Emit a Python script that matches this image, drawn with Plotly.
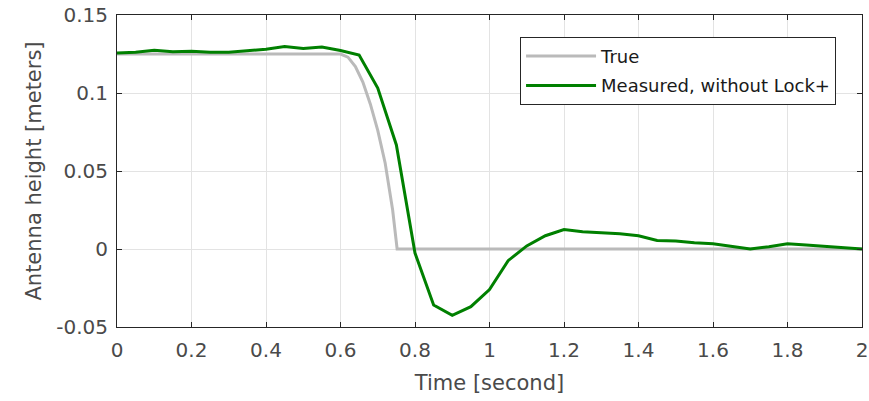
import plotly.graph_objects as go

# True antenna height
t_true = [0.0, 0.6, 0.62, 0.64, 0.66, 0.68, 0.70, 0.72, 0.74, 0.752, 2.0]
h_true = [0.125, 0.125, 0.123, 0.117, 0.107, 0.093, 0.076, 0.055, 0.025, 0.0, 0.0]

# Measured, without Lock+
t_meas = [0.0, 0.05, 0.1, 0.15, 0.2, 0.25, 0.3, 0.35, 0.4, 0.45, 0.5, 0.55, 0.6,
          0.65, 0.7, 0.75, 0.8, 0.85, 0.9, 0.95, 1.0, 1.05, 1.1, 1.15, 1.2,
          1.25, 1.3, 1.35, 1.4, 1.45, 1.5, 1.55, 1.6, 1.65, 1.7, 1.75, 1.8,
          1.85, 1.9, 1.95, 2.0]
h_meas = [0.1256, 0.1262, 0.1274, 0.1265, 0.1268, 0.1262, 0.1262, 0.1272, 0.128, 0.1298, 0.1285, 0.1295, 0.1272,
          0.1244, 0.1032, 0.0667, -0.0026, -0.0359, -0.0425, -0.037, -0.026, -0.0075, 0.002, 0.0085, 0.0125,
          0.011, 0.0105, 0.0098, 0.0085, 0.0055, 0.0052, 0.004, 0.0033, 0.0018, 0.0, 0.0015, 0.0033,
          0.0025, 0.0018, 0.001, 0.0]

x_ticks = [0, 0.2, 0.4, 0.6, 0.8, 1.0, 1.2, 1.4, 1.6, 1.8, 2.0]
x_labels = ["0", "0.2", "0.4", "0.6", "0.8", "1", "1.2", "1.4", "1.6", "1.8", "2"]
y_ticks = [-0.05, 0, 0.05, 0.1, 0.15]
y_labels = ["-0.05", "0", "0.05", "0.1", "0.15"]

FONT = "DejaVu Sans, Liberation Sans, Arial, sans-serif"
TXT = "#4a4a4a"

fig = go.Figure()
fig.add_trace(go.Scatter(x=t_true, y=h_true, mode="lines", name="True", legendgroup="a",
                         line=dict(color="#bababa", width=3)))
fig.add_trace(go.Scatter(x=t_meas, y=h_meas, mode="lines", name="Measured, without Lock+", legendgroup="b",
                         line=dict(color="#008000", width=3)))

axis_common = dict(showgrid=True, gridcolor="#e3e3e3", gridwidth=1,
                   showline=True, linecolor="#262626", linewidth=1, mirror="allticks",
                   ticks="inside", ticklen=5, tickcolor="#262626", zeroline=False,
                   automargin=False, ticklabeloverflow="allow",
                   tickfont=dict(family=FONT, size=20, color=TXT))

fig.update_xaxes(range=[0, 2.000001], tickvals=x_ticks, ticktext=x_labels, ticklabelstandoff=5,
                 title=dict(text="Time [second]", font=dict(family=FONT, size=21, color=TXT), standoff=14),
                 **axis_common)
fig.update_yaxes(range=[-0.05, 0.15], tickvals=y_ticks, ticktext=y_labels, ticklabelstandoff=4,
                 title=dict(text="Antenna height [meters]", font=dict(family=FONT, size=21, color=TXT), standoff=8),
                 **axis_common)

fig.update_layout(
    width=869, height=401,
    margin=dict(l=117, r=7, t=15, b=74),
    paper_bgcolor="white", plot_bgcolor="white",
    font=dict(family=FONT, color=TXT),
    legend=dict(x=0.541, y=0.93, xanchor="left", yanchor="top",
                bgcolor="white", bordercolor="#262626", borderwidth=1,
                font=dict(family=FONT, size=18, color="#1a1a1a"),
                itemwidth=70, tracegroupgap=3, traceorder="grouped"),
)

# remove the default 8px page margin so the figure fills the window exactly
fig.write_html("out.html", config={"displayModeBar": False},
               post_script="document.body.style.margin='0';document.body.style.overflow='hidden';")
